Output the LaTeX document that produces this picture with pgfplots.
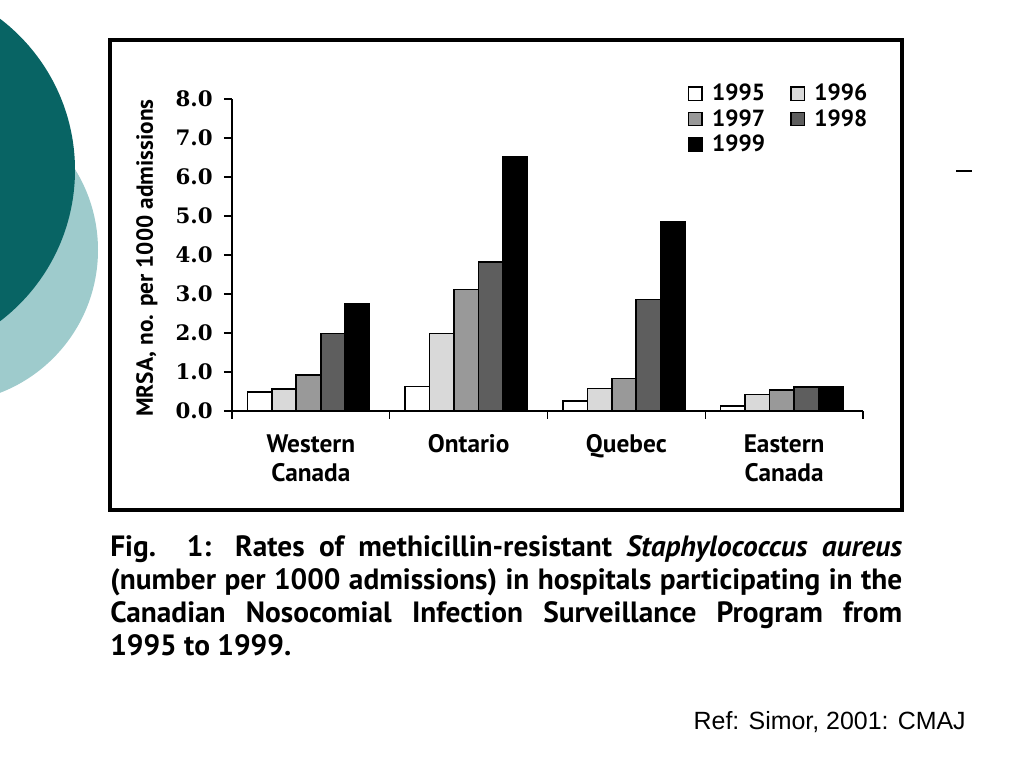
\documentclass[border=0pt]{standalone}
\usepackage{pgfplots}
\pgfplotsset{compat=1.18}
\usepackage{fontspec}
\setmainfont{PT Sans}
\newfontfamily\opt{PT Sans}
\newfontfamily\tickf{DejaVu Serif}
\newfontfamily\arial{Liberation Sans}
\definecolor{darkteal}{RGB}{8,100,100}
\definecolor{lightteal}{RGB}{158,203,204}
\definecolor{c95}{gray}{1.0}
\definecolor{c96}{gray}{0.85}
\definecolor{c97}{gray}{0.60}
\definecolor{c98}{gray}{0.37}
\definecolor{c99}{gray}{0.0}
\pgfplotsset{sqleg/.style={legend image code/.code={\draw[##1,line width=1pt] (0pt,-5pt) rectangle (10pt,5pt);}}}
\begin{document}
\begin{tikzpicture}[x=0.75pt,y=0.75pt]
\path[use as bounding box] (0,0) rectangle (1024,768);
\fill[white] (0,0) rectangle (1024,768);
\begin{scope}
\clip (0,0) rectangle (1024,768);
\fill[lightteal] (-55,518) circle [radius=153];
\fill[darkteal] (-115,598) circle [radius=190];
\end{scope}
\draw[line width=2.3pt] (110,728) rectangle (902,258);
\draw[line width=1pt] (956,597) -- (972,597);
\node[rotate=90, inner sep=0pt] at (147,510) {\opt\bfseries\fontsize{17.5}{19}\selectfont MRSA, no. per 1000 admissions};
\begin{axis}[
  at={(174pt,267.75pt)}, anchor=south west,
  scale only axis, width=473.25pt, height=234pt,
  xmin=-0.5, xmax=3.5, ymin=0, ymax=8,
  axis lines*=left,
  axis line style={line width=1.1pt, -},
  clip=false,
  ybar=0pt, bar width=0.1553,
  xtick={-0.5,0.5,1.5,2.5,3.5}, xticklabels={},
  ytick={0,1,2,3,4,5,6,7,8},
  tick align=outside, major tick length=6pt,
  tick style={line width=1.1pt, black},
  yticklabel style={font=\tickf\bfseries\fontsize{16}{18}\selectfont, xshift=-5pt,
    /pgf/number format/fixed, /pgf/number format/zerofill,
    /pgf/number format/precision=1, /pgf/number format/assume math mode=true},
  legend columns=2,
  legend style={at={(0.716,1.061)}, anchor=north west, draw=none, fill=none,
    font=\opt\bfseries\fontsize{17.5}{20}\selectfont,
    /tikz/every odd column/.append style={column sep=6pt},
    /tikz/every even column/.append style={column sep=18pt},
    row sep=3pt, nodes={inner sep=1pt}},
  legend cell align=left,
]
\addplot[sqleg, fill=c95, draw=black, line width=1.2pt, bar shift=-0.325] coordinates {(0,0.49) (1,0.63) (2,0.25) (3,0.13)};
\addplot[sqleg, fill=c96, draw=black, line width=1.2pt, bar shift=-0.17] coordinates {(0,0.57) (1,1.99) (2,0.58) (3,0.42)};
\addplot[sqleg, fill=c97, draw=black, line width=1.2pt, bar shift=-0.015] coordinates {(0,0.92) (1,3.12) (2,0.83) (3,0.54)};
\addplot[sqleg, fill=c98, draw=black, line width=1.2pt, bar shift=0.14] coordinates {(0,1.99) (1,3.82) (2,2.86) (3,0.62)};
\addplot[sqleg, fill=c99, draw=black, line width=1.2pt, bar shift=0.295] coordinates {(0,2.74) (1,6.53) (2,4.86) (3,0.62)};
\legend{1995,1996,1997,1998,1999}
\node[anchor=base, yshift=-31.5pt, font=\opt\bfseries\fontsize{19}{21}\selectfont] at (axis cs:0,0) {Western};
\node[anchor=base, yshift=-53.25pt, font=\opt\bfseries\fontsize{19}{21}\selectfont] at (axis cs:0,0) {Canada};
\node[anchor=base, yshift=-31.5pt, font=\opt\bfseries\fontsize{19}{21}\selectfont] at (axis cs:1,0) {Ontario};
\node[anchor=base, yshift=-31.5pt, font=\opt\bfseries\fontsize{19}{21}\selectfont] at (axis cs:2,0) {Quebec};
\node[anchor=base, yshift=-31.5pt, font=\opt\bfseries\fontsize{19}{21}\selectfont] at (axis cs:3,0) {Eastern};
\node[anchor=base, yshift=-53.25pt, font=\opt\bfseries\fontsize{19}{21}\selectfont] at (axis cs:3,0) {Canada};
\end{axis}
\begin{scope}[font=\opt\bfseries\fontsize{22}{26}\selectfont]
\node[anchor=base west, inner sep=0pt] at (110,212) {\makebox[594pt][s]{Fig. 1: Rates of methicillin-resistant \textit{Staphylococcus aureus}}};
\node[anchor=base west, inner sep=0pt] at (110,179) {\makebox[594pt][s]{(number per 1000 admissions) in hospitals participating in the}};
\node[anchor=base west, inner sep=0pt] at (110,146) {\makebox[594pt][s]{Canadian Nosocomial Infection Surveillance Program from}};
\node[anchor=base west, inner sep=0pt] at (110,113) {1995 to 1999.};
\end{scope}
\node[anchor=base east, inner sep=0pt] at (966,39) {\arial\fontsize{18.7}{22}\selectfont Ref: Simor, 2001: CMAJ};
\end{tikzpicture}
\end{document}
